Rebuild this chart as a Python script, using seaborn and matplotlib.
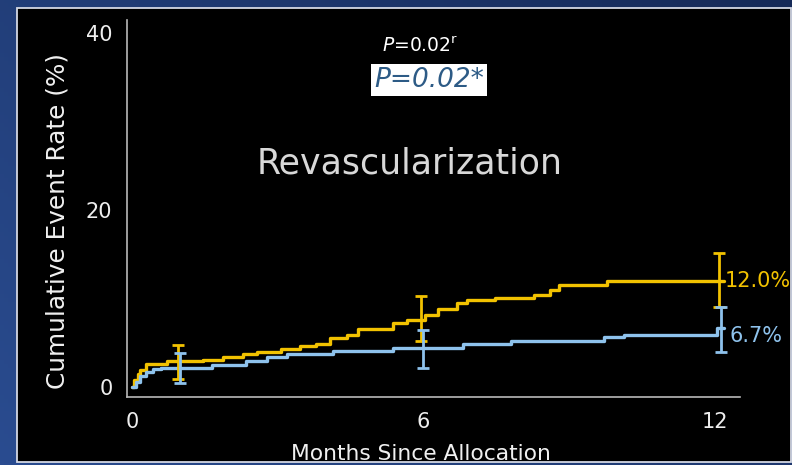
import numpy as np
import pandas as pd
import matplotlib
matplotlib.use("Agg")
import matplotlib.pyplot as plt
import seaborn as sns
from matplotlib.patches import Rectangle

# ---------------- data ----------------
months_yellow = [0, 0.05, 0.12, 0.17, 0.30, 0.72, 1.47, 1.88, 2.29, 2.57, 3.08, 3.46, 3.80,
                 4.08, 4.42, 4.66, 5.38, 5.66, 6.03, 6.30, 6.70, 6.90, 7.47, 8.28, 8.60,
                 8.80, 9.79, 12.20]
rate_yellow = [0, 0.8, 1.5, 1.9, 2.6, 2.9, 3.1, 3.4, 3.7, 4.0, 4.3, 4.6, 4.9,
               5.5, 5.9, 6.6, 7.2, 7.6, 8.1, 8.8, 9.5, 9.8, 10.1, 10.4, 11.0,
               11.5, 12.0, 12.0]
months_blue = [0, 0.08, 0.17, 0.30, 0.44, 0.60, 1.65, 2.34, 2.78, 3.19, 4.15, 5.38,
               6.82, 7.81, 9.73, 10.14, 12.05, 12.20]
rate_blue = [0, 0.6, 1.2, 1.7, 2.0, 2.2, 2.5, 2.9, 3.4, 3.7, 4.1, 4.4,
             4.9, 5.2, 5.6, 5.9, 6.7, 6.7]

err_months_yellow = [0.96, 5.95, 12.09]
err_lo_yellow = [0.9, 5.2, 9.1]
err_hi_yellow = [4.75, 10.3, 15.1]
err_months_blue = [1.0, 6.0, 12.13]
err_lo_blue = [0.4, 2.2, 4.0]
err_hi_blue = [3.9, 6.5, 9.1]

x_ticks = [0, 6, 12]
y_ticks = [0, 20, 40]
end_labels = ["12.0%", "6.7%"]
end_label_values = [12.0, 5.8]

YELLOW = "#F2C200"
BLUE = "#8EC2EC"

df = pd.concat([
    pd.DataFrame({"month": months_yellow, "rate": rate_yellow, "arm": "A"}),
    pd.DataFrame({"month": months_blue, "rate": rate_blue, "arm": "B"}),
])

# ---------------- figure ----------------
W, H = 792, 465
sns.set_style("dark")
plt.rcParams["font.family"] = ["DejaVu Sans"]
fig = plt.figure(figsize=(W / 100, H / 100), dpi=100)

def fx(x):
    return x / W

def fy(y):
    return 1 - y / H

# background gradient + black panel
bg = fig.add_axes([0, 0, 1, 1], zorder=-5)
gx = np.linspace(0, 1, 200)
gy = np.linspace(0, 1, 120)
GX, GY = np.meshgrid(gx, gy)
c1 = np.array([0x2a, 0x4c, 0x90]) / 255
c2 = np.array([0x16, 0x2a, 0x58]) / 255
t = np.clip(0.6 * GX + 0.4 * (1 - GY), 0, 1)[..., None]
img = c1 * (1 - t) + c2 * t
bg.imshow(img, extent=[0, W, H, 0], aspect="auto")
bg.add_patch(Rectangle((17, 8), 774, 454, facecolor="black", edgecolor="#d4d8e4", lw=1.3))
bg.set_xlim(0, W)
bg.set_ylim(H, 0)
bg.axis("off")

ax = fig.add_axes([fx(127), fy(397), (740 - 127) / W, (397 - 20) / H], zorder=1)
ax.set_facecolor("none")

sns.lineplot(data=df, x="month", y="rate", hue="arm", palette={"A": YELLOW, "B": BLUE},
             estimator=None, drawstyle="steps-post", linewidth=2.4, legend=False, ax=ax)

for mo, lo, hi, col in [(err_months_yellow, err_lo_yellow, err_hi_yellow, YELLOW),
                        (err_months_blue, err_lo_blue, err_hi_blue, BLUE)]:
    lo = np.array(lo); hi = np.array(hi)
    mid = (lo + hi) / 2
    ax.errorbar(mo, mid, yerr=[mid - lo, hi - mid], fmt="none", ecolor=col,
                elinewidth=2, capsize=4.5, capthick=2)

ax.set_xlim(-0.1, 12.52)
ax.set_ylim(-1.13, 41.5)
ax.set_xticks(x_ticks)
ax.set_yticks(y_ticks)
ax.grid(False)
for s in ["top", "right"]:
    ax.spines[s].set_visible(False)
for s in ["left", "bottom"]:
    ax.spines[s].set_visible(True)
    ax.spines[s].set_color("#b8b8b8")
    ax.spines[s].set_linewidth(1.2)
ax.tick_params(axis="both", direction="out", length=4.5, width=1, color="#b8b8b8",
               labelcolor="#eeeeee", labelsize=15)
ax.tick_params(axis="x", pad=6)
ax.tick_params(axis="y", pad=6)
ax.set_xlabel("")
ax.set_ylabel("")

ax.text(12.2, end_label_values[0], end_labels[0], color=YELLOW, fontsize=15,
        va="center", ha="left", clip_on=False)
ax.text(12.3, end_label_values[1], end_labels[1], color=BLUE, fontsize=15,
        va="center", ha="left", clip_on=False)

fig.text(fx(57), fy(221), "Cumulative Event Rate (%)", rotation=90, color="#f0f0f0",
         fontsize=17.8, ha="center", va="center")
fig.text(fx(421), fy(460), "Months Since Allocation", color="#f0f0f0",
         fontsize=15.7, ha="center", va="baseline")

fig.text(fx(410), fy(164), "Revascularization", color="#d8d8d8", fontsize=25,
         ha="center", va="center")
fig.text(fx(420), fy(46), r"$\it{P}$=0.02$^{\rm r}$", color="white", fontsize=13.5,
         ha="center", va="center")
fig.text(fx(429), fy(80), "P=0.02*", color="#2d5b86", fontsize=19, style="italic",
         ha="center", va="center",
         bbox=dict(facecolor="white", edgecolor="none", boxstyle="square,pad=0.12"))

fig.savefig("out.png", dpi=100)
